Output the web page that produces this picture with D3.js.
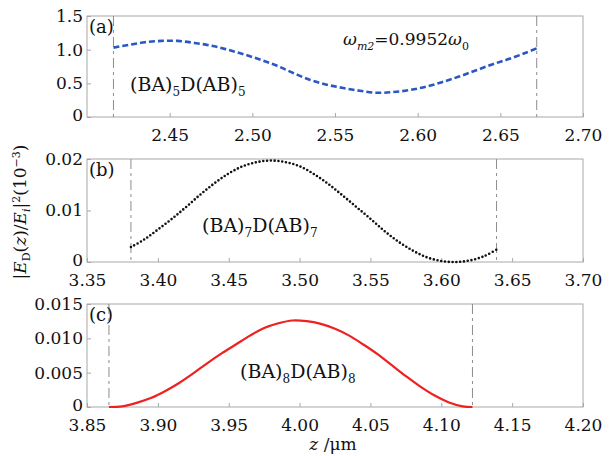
<!DOCTYPE html>
<html>
<head>
<meta charset="utf-8">
<script src="https://cdn.jsdelivr.net/npm/d3@7"></script>
<style>
  html, body { margin: 0; padding: 0; background: #fff; }
  svg { display: block; }
  text { font-family: "DejaVu Serif", serif; fill: #111; }
</style>
</head>
<body>
<svg id="chart" width="616" height="456"></svg>
<script>
// Panel (a): (BA)5D(AB)5, field intensity along z
const zA = [2.416, 2.425, 2.435, 2.445, 2.455, 2.465, 2.475, 2.485, 2.495, 2.505, 2.515, 2.525, 2.535,
            2.545, 2.555, 2.565, 2.575, 2.585, 2.595, 2.605, 2.615, 2.625, 2.635, 2.645, 2.655, 2.665, 2.672];
const valA = [1.03, 1.07, 1.11, 1.13, 1.13, 1.10, 1.06, 1.00, 0.93, 0.85, 0.76, 0.65, 0.55,
              0.48, 0.43, 0.39, 0.36, 0.37, 0.40, 0.45, 0.52, 0.60, 0.69, 0.78, 0.86, 0.95, 1.02];

// Panel (b): (BA)7D(AB)7
const zB = [3.381, 3.39, 3.40, 3.41, 3.42, 3.43, 3.44, 3.45, 3.46, 3.47, 3.48, 3.49, 3.50,
            3.51, 3.52, 3.53, 3.54, 3.55, 3.56, 3.57, 3.58, 3.59, 3.60, 3.61, 3.62, 3.63, 3.639];
const valB = [0.0029, 0.0043, 0.0063, 0.0084, 0.0107, 0.0131, 0.0153, 0.0172, 0.0186, 0.0194, 0.0197, 0.0194, 0.0186,
              0.0171, 0.0152, 0.0130, 0.0107, 0.0084, 0.0060, 0.0039, 0.0022, 0.0009, 0.0002, 0.0000, 0.0003, 0.0011, 0.0024];

// Panel (c): (BA)8D(AB)8
const zC = [3.8655, 3.875, 3.885, 3.895, 3.905, 3.915, 3.925, 3.935, 3.945, 3.955, 3.965, 3.975, 3.985,
            3.995, 4.005, 4.015, 4.025, 4.035, 4.045, 4.055, 4.065, 4.075, 4.085, 4.095, 4.105, 4.115, 4.122];
const valC = [0.0000, 0.0001, 0.0006, 0.0013, 0.0023, 0.0035, 0.0049, 0.0064, 0.0078, 0.0091, 0.0104, 0.0115, 0.0122,
              0.0126, 0.0125, 0.0121, 0.0114, 0.0104, 0.0091, 0.0077, 0.0061, 0.0045, 0.0030, 0.0017, 0.0007, 0.0001, 0.0000];

// Structure boundaries (dash-dot markers)
const boundsA = [2.416, 2.672];
const boundsB = [3.381, 3.639];
const boundsC = [3.8655, 4.122];

// Axis domains and tick labels
const xDomA = [2.40, 2.70], xTicksA = [2.45, 2.50, 2.55, 2.60, 2.65, 2.70];
const xDomB = [3.35, 3.70], xTicksB = [3.35, 3.40, 3.45, 3.50, 3.55, 3.60, 3.65, 3.70];
const xDomC = [3.85, 4.20], xTicksC = [3.85, 3.90, 3.95, 4.00, 4.05, 4.10, 4.15, 4.20];
const yDomA = [0, 1.5], yTicksA = [0, 0.5, 1.0, 1.5];
const yDomB = [0, 0.02], yTicksB = [0, 0.01, 0.02];
const yDomC = [0, 0.015], yTicksC = [0, 0.005, 0.010, 0.015];

const svg = d3.select("#chart");
const left = 87, right = 583;
const frameColor = "#a8a8a8";

function panel(cfg) {
  const x = d3.scaleLinear().domain(cfg.xDom).range([left, right]);
  const y = d3.scaleLinear().domain(cfg.yDom).range([cfg.bottom, cfg.top]);
  const g = svg.append("g");

  // frame
  g.append("rect")
    .attr("x", left).attr("y", cfg.top)
    .attr("width", right - left).attr("height", cfg.bottom - cfg.top)
    .attr("fill", "none").attr("stroke", frameColor).attr("stroke-width", 1);

  const xAxis = d3.axisBottom(x).tickValues(cfg.xTicks)
    .tickFormat(cfg.xFmt).tickSizeInner(-4).tickSizeOuter(0).tickPadding(12);
  const gx = g.append("g").attr("transform", `translate(0,${cfg.bottom})`).call(xAxis);
  gx.select(".domain").remove();
  gx.selectAll(".tick line").attr("stroke", frameColor);
  gx.selectAll(".tick text").attr("font-size", 17).attr("font-family", "DejaVu Serif").attr("fill", "#111");

  const yAxis = d3.axisLeft(y).tickValues(cfg.yTicks)
    .tickFormat(cfg.yFmt).tickSizeInner(-4).tickSizeOuter(0).tickPadding(4);
  const gy = g.append("g").attr("transform", `translate(${left},0)`).call(yAxis);
  gy.select(".domain").remove();
  gy.selectAll(".tick line").attr("stroke", frameColor);
  gy.selectAll(".tick text").attr("font-size", 17).attr("font-family", "DejaVu Serif").attr("fill", "#111")
    .attr("dy", d => d === 0 ? "0.2em" : "0.32em");

  // boundary markers
  g.selectAll("line.bound").data(cfg.bounds).join("line")
    .attr("class", "bound")
    .attr("x1", d => x(d)).attr("x2", d => x(d))
    .attr("y1", cfg.top).attr("y2", cfg.bottom)
    .attr("stroke", "#8c8c8c").attr("stroke-width", 1)
    .attr("stroke-dasharray", "10,4,3,4");

  // curve
  const pts = cfg.z.map((z, i) => [z, cfg.v[i]]);
  const line = d3.line().x(d => x(d[0])).y(d => y(d[1])).curve(d3.curveCatmullRom.alpha(0.5));
  g.append("path").datum(pts)
    .attr("d", line)
    .attr("fill", "none")
    .attr("stroke", cfg.color)
    .attr("stroke-width", cfg.width)
    .attr("stroke-linecap", cfg.cap)
    .attr("stroke-dasharray", cfg.dash);

  // panel tag
  g.append("text").attr("x", left + 2).attr("y", cfg.top + 17)
    .attr("font-size", 18).text(cfg.tag);

  // structure label
  const t = g.append("text").attr("x", cfg.labX).attr("y", cfg.labY).attr("font-size", 19);
  t.append("tspan").text("(BA)");
  t.append("tspan").attr("font-size", 12).attr("dy", 5).text(cfg.n);
  t.append("tspan").attr("dy", -5).text("D(AB)");
  t.append("tspan").attr("font-size", 12).attr("dy", 5).text(cfg.n);
  return { x, y, g };
}

const fmt2 = d3.format(".2f");

panel({
  xDom: xDomA, xTicks: xTicksA, xFmt: fmt2,
  yDom: yDomA, yTicks: yTicksA, yFmt: d => d === 0 ? "0" : d3.format(".1f")(d),
  top: 16, bottom: 117, bounds: boundsA, z: zA, v: valA,
  color: "#2a57c6", width: 2.6, cap: "butt", dash: "6,3",
  tag: "(a)", n: "5", labX: 130, labY: 91
});

panel({
  xDom: xDomB, xTicks: xTicksB, xFmt: fmt2,
  yDom: yDomB, yTicks: yTicksB, yFmt: d => d === 0 ? "0" : d3.format(".2f")(d),
  top: 159, bottom: 262, bounds: boundsB, z: zB, v: valB,
  color: "#111", width: 2.6, cap: "round", dash: "0,3.8",
  tag: "(b)", n: "7", labX: 202, labY: 232
});

panel({
  xDom: xDomC, xTicks: xTicksC, xFmt: fmt2,
  yDom: yDomC, yTicks: yTicksC, yFmt: d => d === 0 ? "0" : d3.format(".3f")(d),
  top: 304, bottom: 407, bounds: boundsC, z: zC, v: valC,
  color: "#ee2020", width: 2.2, cap: "butt", dash: null,
  tag: "(c)", n: "8", labX: 240, labY: 378
});

// frequency annotation in panel (a)
const om = svg.append("text").attr("x", 343).attr("y", 45).attr("font-size", 17);
om.append("tspan").attr("font-style", "italic").text("ω");
om.append("tspan").attr("font-style", "italic").attr("font-size", 11).attr("dy", 5).text("m2");
om.append("tspan").attr("dy", -5).text("=0.9952");
om.append("tspan").attr("font-style", "italic").text("ω");
om.append("tspan").attr("font-size", 11).attr("dy", 5).text("0");

// y-axis title
const yt = svg.append("text")
  .attr("transform", "translate(26,212) rotate(-90)")
  .attr("text-anchor", "middle").attr("font-size", 17);
yt.append("tspan").text("|");
yt.append("tspan").attr("font-style", "italic").text("E");
yt.append("tspan").attr("font-size", 11).attr("dy", 4).text("D");
yt.append("tspan").attr("dy", -4).text("(");
yt.append("tspan").attr("font-style", "italic").text("z");
yt.append("tspan").text(")/");
yt.append("tspan").attr("font-style", "italic").text("E");
yt.append("tspan").attr("font-style", "italic").attr("font-size", 11).attr("dy", 4).text("i");
yt.append("tspan").attr("dy", -4).text("|");
yt.append("tspan").attr("font-size", 11).attr("dy", -6).text("2");
yt.append("tspan").attr("dy", 6).text("(10");
yt.append("tspan").attr("font-size", 11).attr("dy", -6).text("−3");
yt.append("tspan").attr("dy", 6).text(")");

// x-axis title
const xt = svg.append("text").attr("x", 333).attr("y", 450)
  .attr("text-anchor", "middle").attr("font-size", 17);
xt.append("tspan").attr("font-style", "italic").text("z");
xt.append("tspan").text(" /μm");
</script>
</body>
</html>
